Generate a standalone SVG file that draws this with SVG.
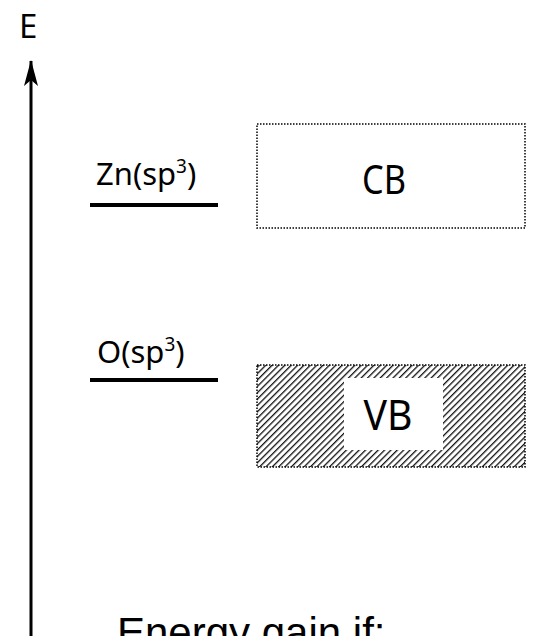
<svg xmlns="http://www.w3.org/2000/svg" width="536" height="636" viewBox="0 0 536 636">
<style>
.lbl{font-family:"Noto Sans","Open Sans",sans-serif;fill:#000}
.box{fill:#fff;stroke:#000;stroke-width:1.5;stroke-dasharray:1.5 1.5}
.lvl{stroke:#000;stroke-width:4}
</style>
<defs>
<pattern id="hatch" patternUnits="userSpaceOnUse" width="4.5" height="4.5" patternTransform="rotate(45)">
<rect width="4.5" height="4.5" fill="#fff"/>
<line x1="0" y1="0" x2="0" y2="4.5" stroke="#111" stroke-width="2.6"/>
</pattern>
<marker id="arr" markerUnits="userSpaceOnUse" markerWidth="28" markerHeight="16" refX="27" refY="8" orient="auto" viewBox="0 0 28 16">
<path d="M28 8 L2 1 L8 8 L2 15 Z" fill="#000"/>
</marker>
</defs>
<g id="connectors">
<line x1="31" y1="640" x2="31" y2="61" stroke="#000" stroke-width="3" marker-end="url(#arr)"/>
</g>
<g id="axis-label">
<text class="lbl" x="19" y="38" font-size="33">E</text>
</g>
<g id="zn-level">
<line class="lvl" x1="90" y1="205" x2="218" y2="205"/>
<text class="lbl" x="96" y="185" font-size="31">Zn(sp<tspan font-size="19" dy="-12">3</tspan><tspan dy="12">)</tspan></text>
</g>
<g id="o-level">
<line class="lvl" x1="90" y1="380" x2="218" y2="380"/>
<text class="lbl" x="97" y="363" font-size="31">O(sp<tspan font-size="19" dy="-12">3</tspan><tspan dy="12">)</tspan></text>
</g>
<g id="cb">
<rect class="box" x="257" y="124" width="268" height="104"/>
<text class="lbl" x="384" y="194" font-size="40" text-anchor="middle" textLength="44" lengthAdjust="spacingAndGlyphs">CB</text>
</g>
<g id="vb">
<rect class="box" x="257" y="365" width="268" height="102" style="fill:url(#hatch)"/>
<rect x="344" y="378" width="99" height="72" fill="#fff"/>
<text class="lbl" x="388" y="430" font-size="42" text-anchor="middle" textLength="49" lengthAdjust="spacingAndGlyphs">VB</text>
</g>
<g id="caption">
<text x="117" y="647" font-family="Liberation Sans, Arial, sans-serif" font-size="42">Energy gain if:</text>
</g>
</svg>
